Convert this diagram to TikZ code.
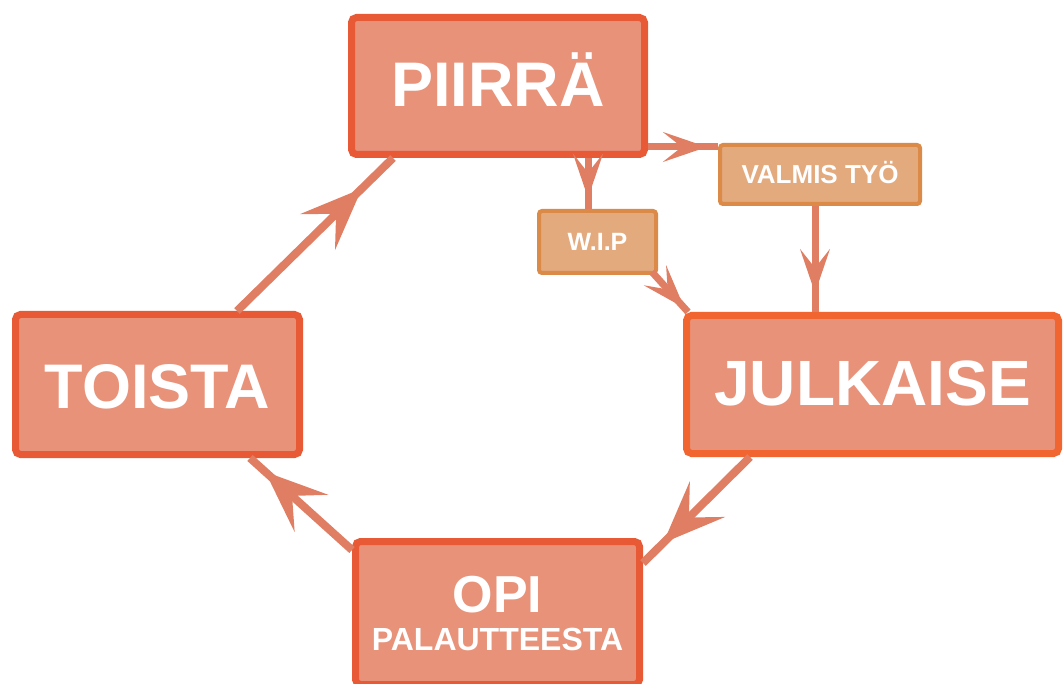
\documentclass[tikz,border=0pt]{standalone}
\usepackage{fontspec}
\setmainfont{Liberation Sans}
\usetikzlibrary{arrows.meta,decorations.markings,calc}
\definecolor{boxfill}{HTML}{E8927A}
\definecolor{boxline}{HTML}{E85A35}
\definecolor{jline}{HTML}{F06530}
\definecolor{arrcol}{HTML}{E07E63}
\definecolor{sfill}{HTML}{E3AA7E}
\definecolor{sline}{HTML}{DB8A47}
\tikzset{
  bigbox/.style={draw=boxline, fill=boxfill, line width=7pt, rounded corners=5pt,
    text=white, font=\bfseries\fontsize{63}{63}\selectfont, inner sep=0pt},
  smallbox/.style={draw=sline, fill=sfill, line width=4pt, rounded corners=3pt,
    text=white, font=\bfseries\fontsize{26}{26}\selectfont, inner sep=0pt},
  bigarrow/.style={draw=arrcol, line width=8pt, postaction={decorate},
    decoration={markings, mark=at position #1 with {\arrow{Stealth[length=62pt,width=50pt,inset=26pt,line width=4pt,color=arrcol]}}}},
  smallarrow/.style={draw=arrcol, line width=7pt, postaction={decorate},
    decoration={markings, mark=at position #1 with {\arrow{Stealth[length=44pt,width=30pt,inset=19pt,line width=3pt,color=arrcol]}}}}
}
\begin{document}
\begin{tikzpicture}[x=1pt,y=-1pt]
\useasboundingbox[fill=white] (0,0) rectangle (1063,684);
\node[bigbox, minimum width=293pt, minimum height=137pt, text height=42pt, text depth=0pt] (piirra) at (498,86) {PIIRRÄ};
\node[smallbox, minimum width=200pt, minimum height=59pt, text height=18.6pt, text depth=0pt] (valmis) at (820,174.5) {VALMIS TYÖ};
\node[smallbox, minimum width=117pt, minimum height=62pt, text height=17.9pt, text depth=0pt, font=\bfseries\fontsize{25}{25}\selectfont] (wip) at (597.5,242) {W.I.P};
\node[bigbox, draw=jline, minimum width=372pt, minimum height=138pt, text height=43pt, text depth=0pt, font=\bfseries\fontsize{64}{64}\selectfont] (julkaise) at (872.5,384.5) {JULKAISE};
\node[bigbox, minimum width=284pt, minimum height=140pt, text height=48pt, text depth=0pt] (toista) at (157.5,384.5) {TOISTA};
\node[bigbox, minimum width=284pt, minimum height=143pt, align=center, font=\bfseries\fontsize{32}{38}\selectfont] (opi) at (497.5,613) {{\fontsize{52}{38}\selectfont OPI}\\PALAUTTEESTA};
% main cycle
\draw[bigarrow=0.8] ($(toista.north)+(79.5,0)$) -- ($(piirra.south)+(-105,0)$);
\draw[bigarrow=0.81] ($(julkaise.south)+(-122.5,0)$) -- ($(opi.north east)+(0,25)$);
\draw[bigarrow=0.85] ($(opi.north west)+(0,12)$) -- ($(toista.south)+(92.5,0)$);
% small connectors
\coordinate (p1) at ($(piirra.south east)+(0,-11)$);
\draw[smallarrow=0.84] (p1) -- (p1 -| valmis.west);
\coordinate (p2) at ($(piirra.south)+(90,0)$);
\draw[smallarrow=0.78] (p2) -- (p2 |- wip.north);
\coordinate (p3) at ($(valmis.south)+(-5,0)$);
\draw[smallarrow=0.82] (p3) -- (p3 |- julkaise.north);
\draw[smallarrow=0.9] ($(wip.south east)+(-6,-3)$) -- ($(julkaise.north west)+(5,0)$);
\end{tikzpicture}
\end{document}
